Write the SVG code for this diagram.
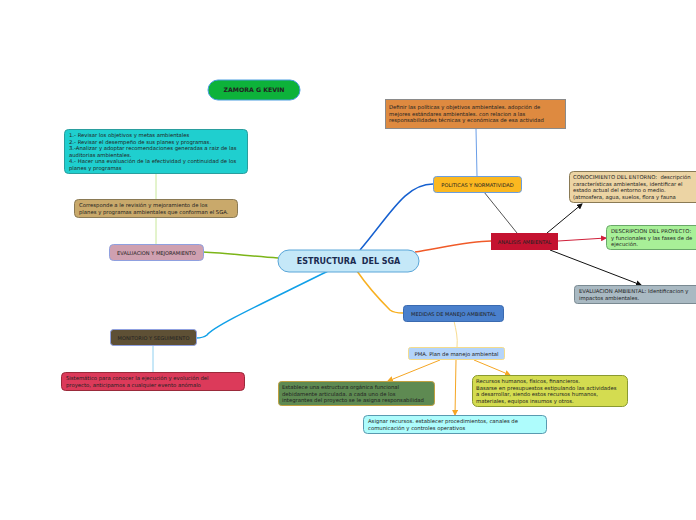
<svg xmlns="http://www.w3.org/2000/svg" width="696" height="520" viewBox="0 0 696 520">
<defs>
<marker id="ab" markerWidth="6" markerHeight="6" refX="5" refY="3" orient="auto" markerUnits="userSpaceOnUse"><path d="M0,0 L6,3 L0,6 z" fill="#111"/></marker>
<marker id="ar" markerWidth="6" markerHeight="6" refX="5" refY="3" orient="auto" markerUnits="userSpaceOnUse"><path d="M0,0 L6,3 L0,6 z" fill="#d0203a"/></marker>
<marker id="ao" markerWidth="6" markerHeight="6" refX="5" refY="3" orient="auto" markerUnits="userSpaceOnUse"><path d="M0,0 L6,3 L0,6 z" fill="#f5a623"/></marker>
</defs>
<style>
text{font-family:"DejaVu Sans",Verdana,sans-serif;fill:#222;}
.s{font-size:5.3px;}
.n{font-size:5.1px;}
</style>
<rect width="696" height="520" fill="#fff"/>
<g id="connectors" fill="none">
<path d="M360,250 C390,215 405,184 433,184" stroke="#1560d0" stroke-width="1.5"/>
<path d="M476,129 L477,176" stroke="#6a9ee8" stroke-width="1"/>
<path d="M484,192 L517,233" stroke="#555" stroke-width="1"/>
<path d="M415,252 C440,248 470,241 491,241" stroke="#f05a28" stroke-width="1.5"/>
<path d="M547,233 L582,204" stroke="#111" stroke-width="1" marker-end="url(#ab)"/>
<path d="M558,241 L606,238" stroke="#d0203a" stroke-width="1" marker-end="url(#ar)"/>
<path d="M550,250 L641,285" stroke="#111" stroke-width="1" marker-end="url(#ab)"/>
<path d="M278,258 C250,256 225,253 203,252" stroke="#7cb518" stroke-width="1.5"/>
<path d="M156,244 L156,218" stroke="#c8e89a" stroke-width="1"/>
<path d="M156,199 L156,173" stroke="#c8e89a" stroke-width="1"/>
<path d="M330,270 C270,300 215,325 207,335 C203,338 199,338 196,338" stroke="#10a0e8" stroke-width="1.5"/>
<path d="M153,346 L153,372" stroke="#90d0f0" stroke-width="1"/>
<path d="M357,271 C370,290 385,305 390,310 C394,313 398,313 403,313" stroke="#f8b020" stroke-width="1.5"/>
<path d="M454,321 C456,330 458,338 457,347" stroke="#f8dc90" stroke-width="1"/>
<path d="M440,360 L388,381" stroke="#f5a623" stroke-width="1" marker-end="url(#ao)"/>
<path d="M474,360 L510,375" stroke="#f5a623" stroke-width="1" marker-end="url(#ao)"/>
<path d="M456,360 L455,415" stroke="#f5a623" stroke-width="1" marker-end="url(#ao)"/>
</g>
<g id="zamora">
<rect x="208" y="80" width="92" height="20" rx="10" fill="#0db23a" stroke="#4a9ee0"/>
<text x="254" y="92.3" text-anchor="middle" font-size="6.2" font-weight="bold">ZAMORA G KEVIN</text>
</g>
<g id="revisar">
<rect x="64.5" y="129.5" width="183" height="44" rx="4" fill="#1fcfcf" stroke="#2a9e9e"/>
<text class="s" x="69" y="137">1.- Revisar los objetivos y metas ambientales</text>
<text class="s" x="69" y="143.5">2.- Revisar el desempeño de sus planes y programas.</text>
<text class="s" x="69" y="150">3.-Analizar y adoptar recomendaciones generadas a raiz de las</text>
<text class="s" x="69" y="156.5">auditorias ambientales.</text>
<text class="s" x="69" y="163">4.- Hacer una evaluación de la efectividad y continuidad de los</text>
<text class="s" x="69" y="169.5">planes y programas</text>
</g>
<g id="corresponde">
<rect x="74.5" y="199.5" width="163" height="18" rx="4" fill="#c9a96b" stroke="#8a7a55"/>
<text class="s" x="79" y="207">Corresponde a le revisión y mejoramiento de los</text>
<text class="s" x="79" y="213.5">planes y programas ambientales que conforman el SGA.</text>
</g>
<g id="evaluacion">
<rect x="109.5" y="244.5" width="94" height="16" rx="4" fill="#cfa0b0" stroke="#8fa0e0"/>
<text class="n" x="156.5" y="254.5" text-anchor="middle">EVALUACION Y MEJORAMIENTO</text>
</g>
<g id="central">
<rect x="278" y="250" width="141" height="22" rx="11" fill="#c5e8f8" stroke="#5aa6d8"/>
<text x="348.5" y="264" text-anchor="middle" font-size="8" font-weight="bold" style="fill:#1a2a50" xml:space="preserve">ESTRUCTURA  DEL SGA</text>
</g>
<g id="definir">
<rect x="385.5" y="99.5" width="180" height="29" fill="#de8a40" stroke="#8a8a8a"/>
<text class="s" x="389" y="109">Definir las políticas y objetivos ambientales. adopción de</text>
<text class="s" x="389" y="115.5">mejores estándares ambientales. con relacion a las</text>
<text class="s" x="389" y="122">responsabilidades técnicas y económicas de esa actividad</text>
</g>
<g id="politicas">
<rect x="433.5" y="176.5" width="88" height="16" rx="3" fill="#fbb820" stroke="#6a9ee0"/>
<text class="n" x="477.5" y="186.5" text-anchor="middle">POLITICAS Y NORMATIVIDAD</text>
</g>
<g id="analisis">
<rect x="491" y="233" width="67" height="17" fill="#c41230"/>
<text class="n" x="524.5" y="243.5" text-anchor="middle">ANALISIS AMBIENTAL</text>
</g>
<g id="conocimiento">
<rect x="569.5" y="171.5" width="140" height="31" rx="4" fill="#ecd4a4" stroke="#8a7a55"/>
<text class="s" x="573" y="179" xml:space="preserve">CONOCIMIENTO DEL ENTORNO:  descripción</text>
<text class="s" x="573" y="185.5">características ambientales, identificar el</text>
<text class="s" x="573" y="192">estado actual del entorno o medio.</text>
<text class="s" x="573" y="198.5">(atmosfera, agua, suelos, flora y fauna</text>
</g>
<g id="descripcion">
<rect x="606.5" y="225.5" width="100" height="24" rx="4" fill="#a8f098" stroke="#6aa86a"/>
<text class="s" x="611" y="233">DESCRIPCION DEL PROYECTO:</text>
<text class="s" x="611" y="239.5">y funcionales y las fases de de</text>
<text class="s" x="611" y="246">ejecución.</text>
</g>
<g id="evalamb">
<rect x="574.5" y="285.5" width="130" height="18" rx="3" fill="#a9b9c2" stroke="#7a8a92"/>
<text class="s" x="579" y="293">EVALUACION AMBIENTAL: Identificacion y</text>
<text class="s" x="579" y="299.5">impactos ambientales.</text>
</g>
<g id="medidas">
<rect x="403.5" y="305.5" width="100" height="16" rx="3" fill="#4a80cc" stroke="#3a6ab0"/>
<text class="n" x="453.5" y="315.5" text-anchor="middle">MEDIDAS DE MANEJO AMBIENTAL</text>
</g>
<g id="pma">
<rect x="408.5" y="347.5" width="96" height="12" rx="2" fill="#b4d4fa" stroke="#f4dc8c"/>
<text class="s" x="456.5" y="355.5" text-anchor="middle">PMA. Plan de manejo ambiental</text>
</g>
<g id="estructura">
<rect x="278.5" y="381.5" width="156" height="24" rx="3" fill="#5e8a52" stroke="#c0a040"/>
<text class="s" x="282" y="389">Establece una estructura orgánica funcional</text>
<text class="s" x="282" y="395.5">debidamente articulada. a cada uno de los</text>
<text class="s" x="282" y="402">integrantes del proyecto se le asigna responsabilidad</text>
</g>
<g id="recursos">
<rect x="472.5" y="375.5" width="155" height="31" rx="5" fill="#d4dc50" stroke="#8a9a30"/>
<text class="s" x="476" y="383">Recursos humanos, físicos, financieros.</text>
<text class="s" x="476" y="389.5">Basarse en presupuestos estipulando las actividades</text>
<text class="s" x="476" y="396">a desarrollar, siendo estos recursos humanos,</text>
<text class="s" x="476" y="402.5">materiales, equipos insumos y otros.</text>
</g>
<g id="asignar">
<rect x="363.5" y="415.5" width="183" height="18" rx="4" fill="#aefcfc" stroke="#5a9ab0"/>
<text class="s" x="368" y="423">Asignar recursos. establecer procedimientos, canales de</text>
<text class="s" x="368" y="429.5">comunicación y controles operativos</text>
</g>
<g id="monitorio">
<rect x="110.5" y="329.5" width="86" height="16" rx="3" fill="#5e5035" stroke="#8fa0e0"/>
<text class="n" x="153.5" y="339.5" text-anchor="middle">MONITORIO Y SEGUIMIENTO</text>
</g>
<g id="sistematico">
<rect x="61.5" y="372.5" width="183" height="18" rx="4" fill="#dc3a5a" stroke="#9a2a3a"/>
<text class="s" x="66" y="380">Sistemático para conocer la ejecución y evolución del</text>
<text class="s" x="66" y="386.5">proyecto, anticipamos a cualquier evento anómalo</text>
</g>
</svg>
